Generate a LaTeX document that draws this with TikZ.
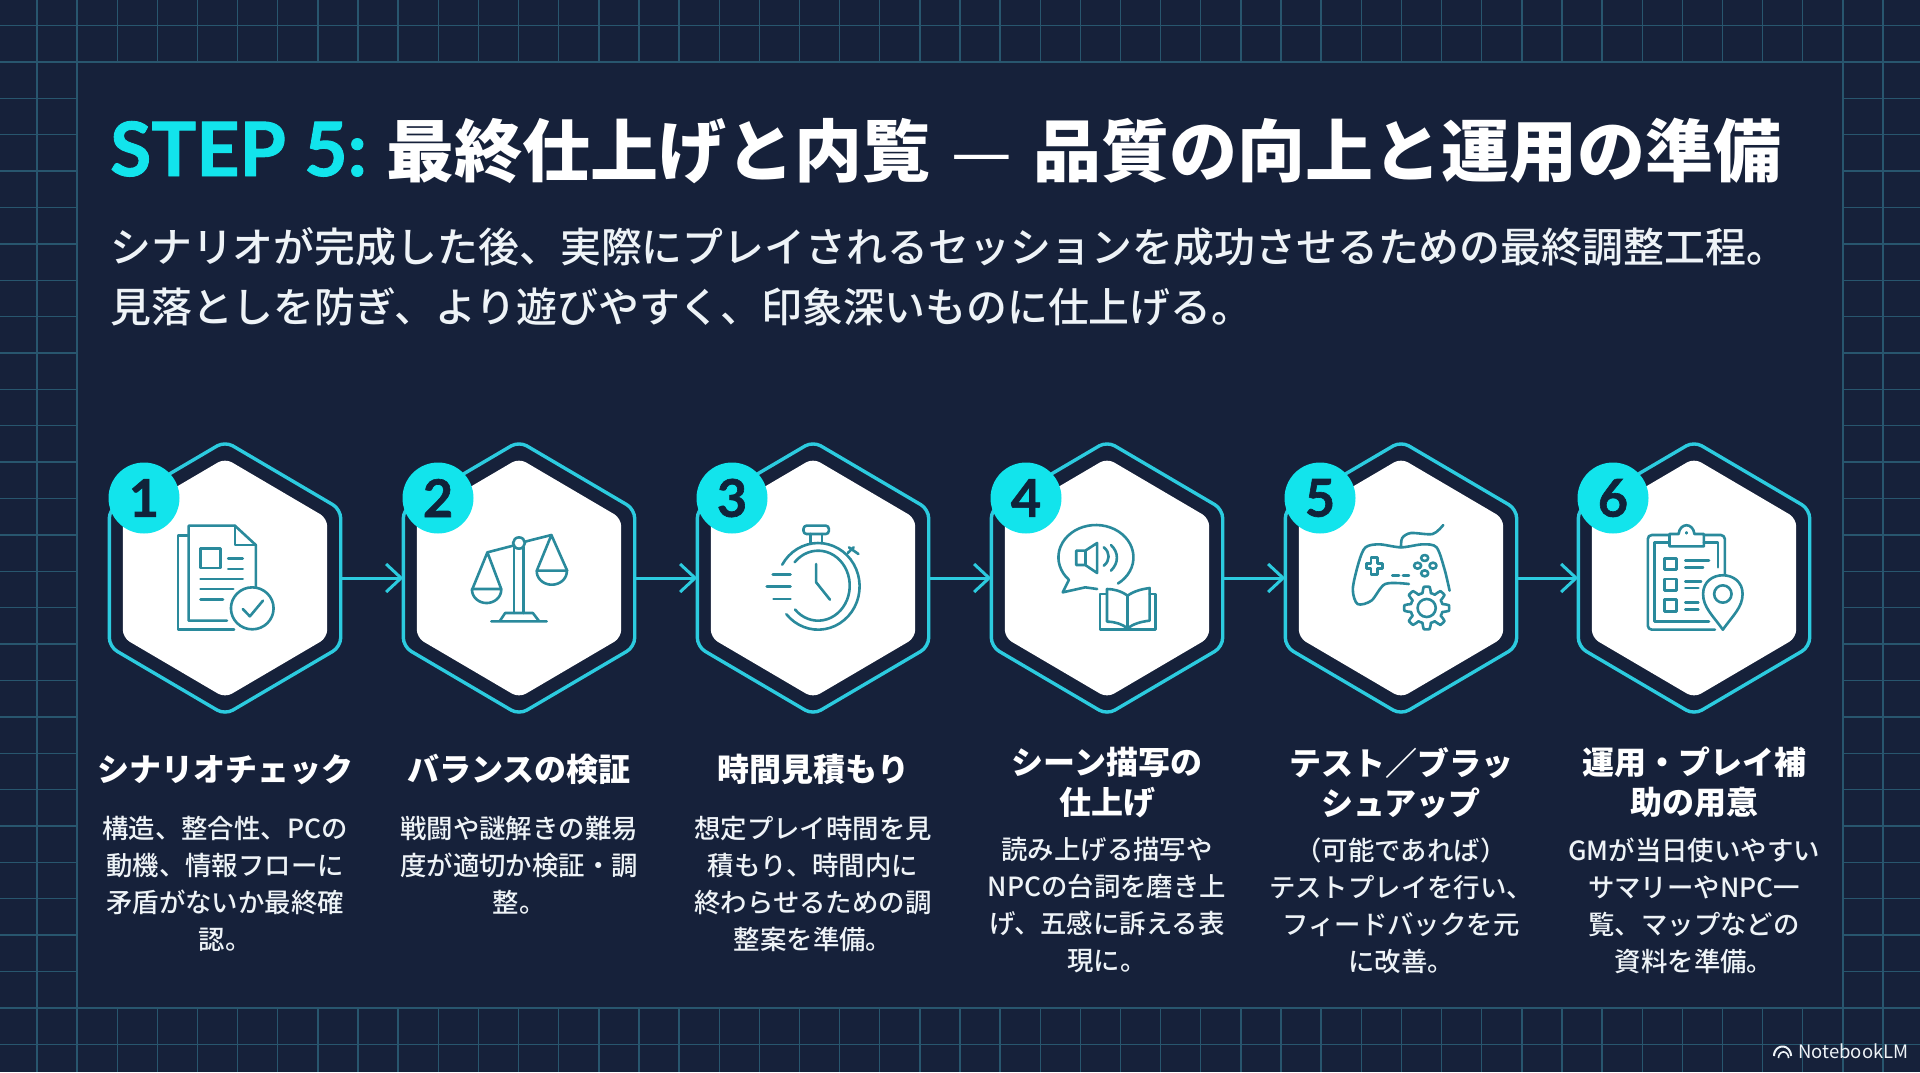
\documentclass[tikz,border=0pt]{standalone}
\usepackage{fontspec}
\setmainfont{Noto Sans CJK JP}
\newfontfamily\medfont{Noto Sans CJK JP Medium}
\newfontfamily\latinfont[BoldFeatures={FakeBold=1.2}]{Lato}
\usetikzlibrary{arrows.meta,positioning,shapes.geometric}

\definecolor{panelbg}{HTML}{16213A}
\definecolor{gridline}{HTML}{28566E}
\definecolor{hexcyan}{HTML}{2CCBDF}
\definecolor{badgecyan}{HTML}{12E4EC}
\definecolor{icontea}{HTML}{2A8A9C}
\definecolor{numdark}{HTML}{10233A}
\definecolor{softwhite}{HTML}{EEF3F7}

% the six-sided outline, drawn on the corners of a box node
\newcommand{\hexpath}[2]{(#1.north) -- ([yshift=-#2]#1.north east) -- ([yshift=#2]#1.south east) -- (#1.south) -- ([yshift=#2]#1.south west) -- ([yshift=-#2]#1.north west) -- cycle}
% part of an ellipse: centre x, radius x, centre y, radius y, start and end angle
\newcommand{\earc}[6]{plot[variable=\ang,domain=#5:#6,samples=40] ({#1+#2*cos(\ang)},{#3+#4*sin(\ang)})}

\tikzset{
    hexbox/.style={rectangle, minimum width=231pt, minimum height=273pt, inner sep=0pt},
    corebox/.style={rectangle, minimum width=204pt, minimum height=239pt, inner sep=0pt},
    hexline/.style={draw=hexcyan, line width=3.4pt, rounded corners=9pt},
    corefill/.style={fill=white, rounded corners=8pt},
    badge/.style={circle, fill=badgecyan, minimum size=71pt, inner sep=0pt,
        text=numdark, font=\latinfont\bfseries\fontsize{52}{52}\selectfont},
    flowarrow/.style={draw=hexcyan, line width=3pt, -{Straight Barb[length=15pt,width=28pt]}},
    steptitle/.style={anchor=north, align=center, text=white, inner sep=0pt,
        font=\bfseries\fontsize{32}{40}\selectfont},
    stepdesc/.style={align=center, text=softwhite, inner sep=0pt,
        font=\medfont\fontsize{26.4}{37}\selectfont},
    iconat/.style n args={3}{shift={(#1.center)}, xscale=.395, yscale=.3333, shift={(-#2,-#3)},
        color=icontea, line width=2.6pt, line join=round, line cap=round},
}

\begin{document}
\begin{tikzpicture}[x=1pt, y=-1pt]
    \useasboundingbox (0,0) rectangle (1920,1072);
    \fill[panelbg] (0,0) rectangle (1920,1072);

    % grid round the panel
    \foreach \k in {0,...,47} {
        \draw[gridline, line width=1.4pt] ({37+40.13*\k},0) -- ({37+40.13*\k},1072);
    }
    \foreach \k in {0,...,28} {
        \draw[gridline, line width=1.4pt] (0,{25.6+36.38*\k}) -- (1920,{25.6+36.38*\k});
    }
    \draw[gridline, line width=1.4pt, fill=panelbg] (77,62) rectangle (1843,1008);

    % heading
    \node[anchor=base west, inner sep=0pt, text=white, font=\bfseries\fontsize{68}{68}\selectfont] (heading) at (110,176)
        {{\latinfont\bfseries\fontsize{75}{75}\selectfont\color{badgecyan}STEP 5:}\hspace{20pt}最終仕上げと内覧\hspace{21pt}{\mdseries —}\hspace{21pt}品質の向上と運用の準備};
    \node[anchor=west, align=left, inner sep=0pt, text=softwhite, font=\medfont\fontsize{40.9}{60}\selectfont] (lead) at (110,277)
        {シナリオが完成した後、実際にプレイされるセッションを成功させるための最終調整工程。\\
         見落としを防ぎ、より遊びやすく、印象深いものに仕上げる。};

    % the six steps
    \foreach \i/\x/\ty/\gap/\stitle/\sdesc in {
        1/225/754/31pt/{シナリオチェック}/{構造、整合性、PCの\\動機、情報フローに\\矛盾がないか最終確\\認。},
        2/519/754/31pt/{バランスの検証}/{戦闘や謎解きの難易\\度が適切か検証・調\\整。},
        3/813/754/31pt/{時間見積もり}/{想定プレイ時間を見\\積もり、時間内に\\終わらせるための調\\整案を準備。},
        4/1107/747/19pt/{シーン描写の\\仕上げ}/{読み上げる描写や\\NPCの台詞を磨き上\\げ、五感に訴える表\\現に。},
        5/1401/747/19pt/{テスト／ブラッ\\シュアップ}/{（可能であれば）\\テストプレイを行い、\\フィードバックを元\\に改善。},
        6/1694/747/19pt/{運用・プレイ補\\助の用意}/{GMが当日使いやすい\\サマリーやNPC一\\覧、マップなどの\\資料を準備。}} {
        \node[hexbox] (hex\i) at (\x,578) {};
        \node[corebox] (core\i) at (\x,578) {};
        \draw[hexline] \hexpath{hex\i}{68pt};
        \fill[corefill] \hexpath{core\i}{60pt};
        \node[badge] (num\i) at ([xshift=-81pt,yshift=80pt]hex\i.center) {\i};
        \node[steptitle] (title\i) at (\x,\ty) {\stitle};
        \node[stepdesc, below=\gap of title\i] (desc\i) {\sdesc};
    }
    \foreach \i/\j in {1/2,2/3,3/4,4/5,5/6} {
        \draw[flowarrow] (hex\i.east) -- (hex\j.west);
    }

    % document with a tick
    \begin{scope}[iconat={hex1}{367}{477}]
        \draw (272,350) -- (248,350) -- (248,632) -- (390,632);
        \draw (372,605) -- (275,605) -- (275,320) -- (392,320) -- (445,378) -- (445,505);
        \draw (392,320) -- (392,378) -- (445,378);
        \draw (305,388) rectangle (355,447);
        \draw (375,418) -- (412,418) (375,450) -- (412,450);
        \draw (305,480) -- (412,480) (305,510) -- (388,510) (305,542) -- (362,542);
        \draw[fill=white] (436,568) ellipse (54 and 63);
        \draw (412,570) -- (430,592) -- (463,545);
    \end{scope}

    % scales
    \begin{scope}[iconat={hex2}{1110}{477}]
        \draw (1097,385) -- (1097,582) (1122,385) -- (1122,582);
        \draw (1110,372) ellipse (15 and 17);
        \draw (1040,607) -- (1180,607) (1062,605) -- (1075,582) -- (1145,582) -- (1160,605);
        \draw (1030,400) -- (1095,380) (1125,368) -- (1192,348);
        \draw (992,510) -- (1030,400) -- (1065,510);
        \draw (1155,455) -- (1192,348) -- (1232,455);
        \draw (991,510) -- (1065,510) \earc{1028}{37}{512}{40}{0}{180};
        \draw (1155,455) -- (1232,455) \earc{1193}{38}{457}{40}{0}{180};
    \end{scope}

    % stopwatch
    \begin{scope}[iconat={hex3}{287}{477}]
        \draw[rounded corners=3pt] (263,320) rectangle (327,345);
        \draw (280,345) -- (280,372) (310,345) -- (310,372);
        \draw \earc{300}{105}{502}{130}{210}{500};
        \draw \earc{300}{80}{500}{105}{222}{497};
        \draw (295,435) -- (295,490) -- (330,542);
        \draw (185,467) -- (230,467) (170,503) -- (230,503) (187,540) -- (230,540);
        \draw (375,402) -- (390,385) (378,385) -- (402,405);
    \end{scope}

    % speech bubble and book
    \begin{scope}[iconat={hex4}{1030}{477}]
        \draw \earc{1002}{95}{415}{97}{54}{-224} -- (918,520) -- (975,505) -- (1005,510);
        \draw (952,395) -- (975,395) -- (1005,372) -- (1005,462) -- (975,438) -- (952,438) -- cycle;
        \draw (975,395) -- (975,438);
        \draw (1022,385) .. controls (1038,400) and (1038,425) .. (1022,440);
        \draw (1040,378) .. controls (1060,400) and (1060,432) .. (1040,455);
        \draw (1028,525) -- (1012,525) -- (1012,632) -- (1152,632) -- (1152,525) -- (1138,525);
        \draw (1082,530) .. controls (1065,515) and (1045,510) .. (1030,510) -- (1030,608) .. controls (1050,608) and (1068,615) .. (1082,628);
        \draw (1082,530) .. controls (1100,515) and (1120,510) .. (1138,507) -- (1138,605) .. controls (1115,608) and (1096,615) .. (1082,628);
        \draw (1082,530) -- (1082,632);
    \end{scope}

    % game controller and gear
    \begin{scope}[iconat={hex5}{255}{477}]
        \draw plot[smooth] coordinates {(275,495) (215,495) (180,545) (145,555) (133,510) (148,430) (165,385) (200,376) (255,385) (310,376) (345,385) (365,450) (378,515)};
        \draw plot[smooth] coordinates {(255,385) (258,357) (280,342) (335,345) (362,318)};
        \draw (179,415) -- (195,415) -- (195,433) -- (208,433) -- (208,449) -- (195,449) -- (195,467) -- (179,467) -- (179,449) -- (168,449) -- (168,433) -- (179,433) -- cycle;
        \draw (315,417) circle (9) (297,440) circle (9) (336,440) circle (9) (315,463) circle (9);
        \draw (233,470) -- (250,470) (260,470) -- (275,470);
        \draw[fill=white] plot[variable=\ang,domain=0:360,samples=97] ({320+(49+8*max(-1,min(1,3*cos(8*\ang))))*cos(\ang)},{567+(55+9*max(-1,min(1,3*cos(8*\ang))))*sin(\ang)}) -- cycle;
        \draw (320,567) ellipse (23 and 27);
    \end{scope}

    % clipboard and map pin
    \begin{scope}[iconat={hex6}{997}{477}]
        \draw[rounded corners=4pt] (935,348) -- (880,348) -- (880,632) -- (1050,632);
        \draw[rounded corners=4pt] (1022,348) -- (1075,348) -- (1075,470);
        \draw (935,370) -- (897,370) -- (897,608) -- (1035,608);
        \draw (1022,370) -- (1058,370) -- (1058,445);
        \draw (935,382) -- (1022,382) -- (1022,345) -- (998,345) .. controls (995,310) and (961,310) .. (958,345) -- (935,345) -- cycle;
        \draw (978,340) -- (978,343);
        \draw (922,418) rectangle (952,452) (922,480) rectangle (952,515) (922,542) rectangle (952,577);
        \draw (975,425) -- (1035,425) (975,445) -- (1020,445);
        \draw (975,487) -- (1015,487) (975,507) -- (1008,507);
        \draw (975,550) -- (1008,550) (975,572) -- (1008,572);
        \draw[fill=white] (1070,632) .. controls (1045,590) and (1020,565) .. (1020,525) .. controls (1020,450) and (1120,450) .. (1120,525) .. controls (1120,565) and (1095,590) .. (1070,632) -- cycle;
        \draw (1070,525) ellipse (22 and 26);
    \end{scope}

    % corner mark
    \node[anchor=west, inner sep=0pt, text=softwhite, font=\fontsize{18.5}{19}\selectfont] (mark) at (1798,1051) {NotebookLM};
    \draw[softwhite, line width=2pt] \earc{1782.5}{8.5}{1056}{9.5}{180}{360};
    \draw[softwhite, line width=1.6pt] \earc{1783.5}{5}{1058}{6}{180}{360};
\end{tikzpicture}
\end{document}
